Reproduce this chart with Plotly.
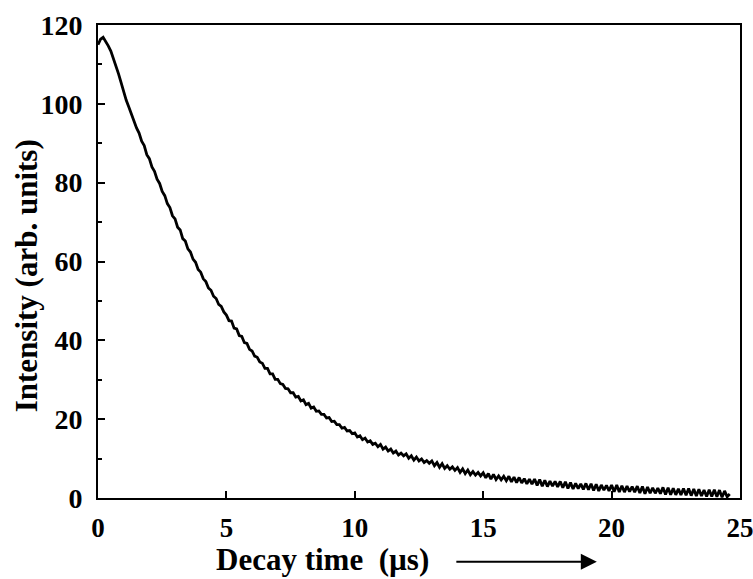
import numpy as np
import plotly.graph_objects as go

# Decay time (µs), sampled every 0.1 µs from 0.0 to 24.6
t_start = 0.0
t_step = 0.1

intensity = [
    115.0, 116.4, 116.9, 115.9, 114.7, 113.4, 111.6, 109.9, 107.6, 105.4,
    102.9, 100.9, 99.2, 97.3, 95.9, 93.9, 92.6, 90.5, 89.4, 87.1,
    86.1, 84.0, 82.9, 80.9, 79.8, 77.8, 76.7, 74.7, 73.7, 71.6,
    70.8, 68.7, 68.0, 65.8, 65.2, 63.2, 62.4, 60.6, 59.8, 58.0,
    57.3, 55.6, 54.9, 53.3, 52.7, 51.2, 50.6, 49.1, 48.6, 47.2,
    46.4, 45.0, 44.9, 43.1, 42.9, 41.2, 41.0, 39.4, 39.2, 37.7,
    37.3, 36.0, 35.7, 34.5, 34.2, 32.9, 32.9, 31.5, 31.5, 30.1,
    30.1, 29.0, 28.8, 27.8, 27.7, 26.7, 26.7, 25.6, 25.8, 24.6,
    24.9, 23.7, 24.0, 22.8, 23.1, 22.0, 22.1, 21.2, 21.2, 20.3,
    20.4, 19.4, 19.5, 18.6, 18.6, 17.7, 17.9, 17.0, 17.1, 16.3,
    16.5, 15.5, 15.8, 14.8, 15.2, 14.2, 14.5, 13.6, 13.9, 13.0,
    13.6, 12.4, 12.9, 11.9, 12.4, 11.4, 11.9, 10.9, 11.4, 10.7,
    11.2, 10.1, 10.7, 9.6, 10.4, 9.4, 9.9, 9.0, 9.5, 8.8,
    9.4, 8.2, 9.0, 7.8, 8.7, 7.5, 8.2, 7.3, 7.9, 7.0,
    7.7, 6.5, 7.4, 6.2, 7.1, 5.9, 6.7, 5.8, 6.5, 5.6,
    6.4, 5.1, 6.2, 4.8, 6.0, 4.7, 5.6, 4.6, 5.5, 4.4,
    5.5, 4.1, 5.3, 3.9, 5.2, 3.8, 4.9, 3.6, 4.8, 3.5,
    4.8, 3.2, 4.7, 3.0, 4.5, 2.9, 4.3, 3.0, 4.2, 2.8,
    4.2, 2.6, 4.1, 2.4, 3.9, 2.3, 3.7, 2.4, 3.6, 2.2,
    3.7, 2.1, 3.6, 1.9, 3.5, 1.8, 3.3, 2.0, 3.2, 1.8,
    3.3, 1.6, 3.3, 1.5, 3.1, 1.5, 3.0, 1.6, 2.9, 1.5,
    3.0, 1.3, 2.9, 1.1, 2.8, 1.2, 2.6, 1.2, 2.5, 1.1,
    2.7, 0.9, 2.6, 0.8, 2.5, 0.8, 2.3, 0.8, 2.4, 0.7,
    2.4, 0.6, 2.3, 0.5, 2.2, 0.5, 2.0, 0.4, 2.1, 0.4,
    2.1, 0.3, 2.0, 0.2, 1.8, 0.3, 1.0,
]

x_ticks = [0, 5, 10, 15, 20, 25]
y_ticks = [0, 20, 40, 60, 80, 100, 120]
y_minor_ticks = [10, 30, 50, 70, 90, 110]

x_title = "Decay time  (µs)"
y_title = "Intensity (arb. units)"

time = t_start + t_step * np.arange(len(intensity))

FONT = "Liberation Serif, Times New Roman, serif"

fig = go.Figure()
fig.add_trace(go.Scatter(
    x=time, y=intensity, mode="lines",
    line=dict(color="black", width=2.8),
    showlegend=False, hoverinfo="skip",
))

fig.update_layout(
    width=753, height=579,
    margin=dict(l=98, r=13, t=25, b=81, autoexpand=False),
    paper_bgcolor="white", plot_bgcolor="white",
    font=dict(family=FONT, color="black"),
)

fig.update_xaxes(
    range=[0, 25], tickvals=x_ticks, ticktext=[str(v) for v in x_ticks],
    automargin=False, ticklabeloverflow="allow",
    showgrid=False, zeroline=False,
    showline=True, linecolor="black", linewidth=2, mirror=True,
    ticks="inside", ticklen=7, tickwidth=2, tickcolor="black",
    tickfont=dict(family=FONT, size=27, weight="bold", color="black"),
    ticklabelstandoff=5,
)
fig.update_yaxes(
    range=[0, 120], tickvals=y_ticks, ticktext=[str(v) for v in y_ticks],
    automargin=False, ticklabeloverflow="allow",
    showgrid=False, zeroline=False,
    showline=True, linecolor="black", linewidth=2, mirror=True,
    ticks="inside", ticklen=7, tickwidth=2, tickcolor="black",
    tickfont=dict(family=FONT, size=28, weight="bold", color="black"),
    ticklabelstandoff=8,
    minor=dict(tickvals=y_minor_ticks, ticks="inside",
               ticklen=4, tickwidth=2, tickcolor="black"),
)

fig.add_annotation(
    xref="paper", yref="paper", x=0.35, y=-0.131,
    text=x_title, showarrow=False, xanchor="center", yanchor="middle",
    font=dict(family=FONT, size=31, weight="bold", color="black"),
)
fig.add_annotation(
    xref="paper", yref="paper", x=-0.112, y=0.469,
    text=y_title, showarrow=False, textangle=-90,
    xanchor="center", yanchor="middle",
    font=dict(family=FONT, size=31, weight="bold", color="black"),
)
# arrow next to the x title
fig.add_annotation(
    xref="paper", yref="paper", x=0.777, y=-0.135,
    axref="pixel", ayref="pixel", ax=-142, ay=0,
    text="", showarrow=True, arrowhead=2, arrowsize=1.6,
    arrowwidth=2, arrowcolor="black",
)

fig.write_html(
    "out.html",
    config={"displayModeBar": False},
    post_script="document.body.style.margin='0px';document.body.style.overflow='hidden';",
)
